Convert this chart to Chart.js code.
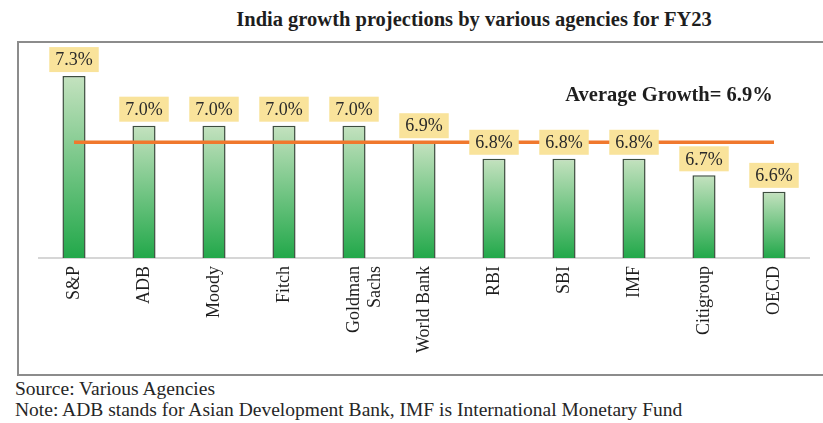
<!DOCTYPE html>
<html>
<head>
<meta charset="utf-8">
<script src="https://cdn.jsdelivr.net/npm/chart.js@4"></script>
<style>
  body { margin: 0; background: #fff; width: 823px; height: 423px; overflow: hidden; position: relative; font-family: "Liberation Serif", serif; }
  #title { position: absolute; left: 0; width: 948px; top: 8px; text-align: center; font-weight: bold; font-size: 20.5px; color: #1e1e1e; }
  #box { position: absolute; left: 17px; top: 41px; width: 820px; height: 331px; border: 2px solid #8c8c8c; }
  #box canvas { position: absolute; left: 0; top: 0; }
  .note { position: absolute; left: 15px; font-size: 19.5px; color: #262626; white-space: nowrap; }
</style>
</head>
<body>
<div id="title">India growth projections by various agencies for FY23</div>
<div id="box"><canvas id="canvas" width="806" height="329"></canvas></div>
<div class="note" style="top:378px">Source: Various Agencies</div>
<div class="note" style="top:399px">Note: ADB stands for Asian Development Bank, IMF is International Monetary Fund</div>
<script>
var agencies = ["S&P", "ADB", "Moody", "Fitch", ["Goldman", "Sachs"], "World Bank", "RBI", "SBI", "IMF", "Citigroup", "OECD"];
var growth = [7.3, 7.0, 7.0, 7.0, 7.0, 6.9, 6.8, 6.8, 6.8, 6.7, 6.6];
var average = 6.9;
var averageLine = [6.9, 6.9, 6.9, 6.9, 6.9, 6.9, 6.9, 6.9, 6.9, 6.9, 6.9];
var yMin = 6.2;
var yMax = 7.5;

var serif = "'Liberation Serif', 'Times New Roman', serif";

// yellow value boxes above each bar + the average caption
var valueBoxes = {
  id: 'valueBoxes',
  afterDatasetsDraw: function(chart) {
    var ctx = chart.ctx;
    var meta = chart.getDatasetMeta(1);
    ctx.save();
    ctx.font = "18px " + serif;
    ctx.textAlign = 'center';
    ctx.textBaseline = 'middle';
    meta.data.forEach(function(bar, i) {
      var txt = growth[i].toFixed(1) + '%';
      var w = ctx.measureText(txt).width + 12;
      var h = 25;
      var bottom = bar.y - 4;
      ctx.fillStyle = '#f9e39b';
      ctx.fillRect(bar.x - w / 2, bottom - h, w, h);
      ctx.fillStyle = '#2a2a2a';
      ctx.fillText(txt, bar.x, bottom - h / 2 + 1);
    });
    var xs = chart.scales.x, ys = chart.scales.y;
    var cx = (xs.getPixelForValue(8) + xs.getPixelForValue(9)) / 2;
    ctx.font = "bold 20.5px " + serif;
    ctx.fillStyle = '#1e1e1e';
    ctx.fillText('Average Growth= ' + average + '%', cx, ys.getPixelForValue(7.18));
    ctx.restore();
  }
};

window.onload = function() {
  var chart = new Chart(document.getElementById("canvas"), {
    type: 'bar',
    data: {
      labels: agencies,
      datasets: [{
        type: 'line',
        label: 'Average Growth',
        data: averageLine,
        borderColor: '#f0782d',
        borderWidth: 3.5,
        pointRadius: 0,
        fill: false
      }, {
        label: 'Growth projection',
        data: growth,
        backgroundColor: function(c) {
          var chart = c.chart;
          if (!chart.chartArea || c.raw === undefined) return '#4caf50';
          var ys = chart.scales.y;
          var g = chart.ctx.createLinearGradient(0, ys.getPixelForValue(c.raw), 0, ys.getPixelForValue(yMin));
          g.addColorStop(0, '#c4e2bf');
          g.addColorStop(1, '#22a84a');
          return g;
        },
        borderColor: '#3c4d3e',
        borderWidth: 1.5,
        barPercentage: 0.33,
        categoryPercentage: 1
      }]
    },
    options: {
      responsive: false,
      animation: false,
      layout: { padding: { left: 20, right: 16, top: 0, bottom: 0 } },
      plugins: {
        legend: { display: false },
        tooltip: { enabled: false }
      },
      scales: {
        x: {
          grid: { display: false, drawTicks: false },
          border: { display: true, color: '#d6d6d6', width: 2 },
          ticks: {
            minRotation: 90,
            maxRotation: 90,
            padding: 8,
            color: '#1e1e1e',
            font: { family: serif, size: 18 }
          },
          afterFit: function(scale) { scale.height = 114; }
        },
        y: {
          display: false,
          min: yMin,
          max: yMax
        }
      }
    },
    plugins: [valueBoxes]
  });
  window.myChart = chart;
};
</script>
</body>
</html>
